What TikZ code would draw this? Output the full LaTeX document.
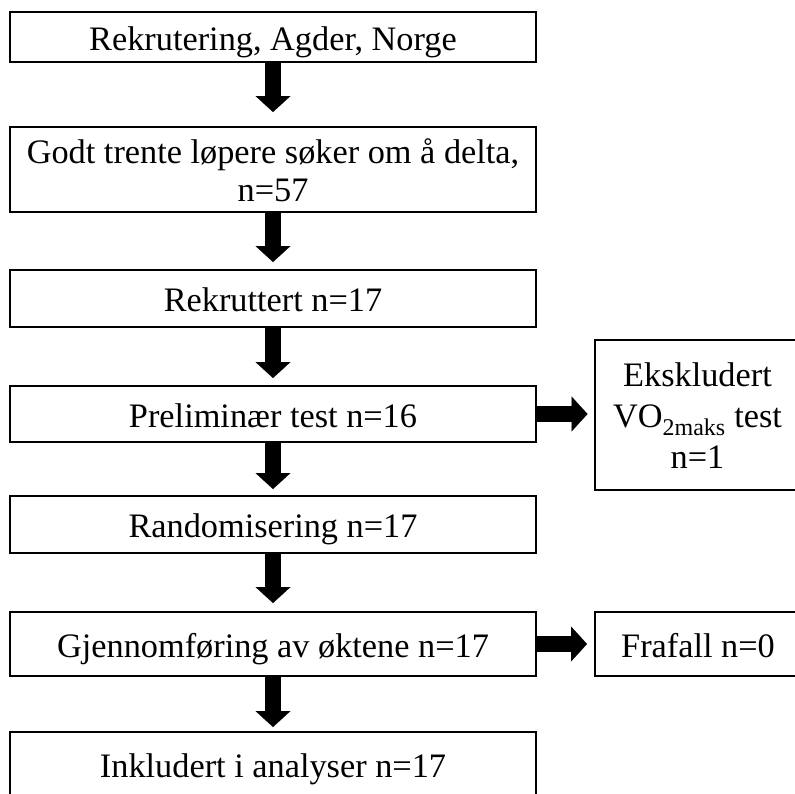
\documentclass[tikz,border=0pt]{standalone}
\usepackage{fontspec}
\setmainfont{Liberation Serif}
\usetikzlibrary{arrows.meta}
\tikzset{
  box/.style={draw=black, line width=2pt, fill=white, minimum width=526pt, inner sep=0pt},
  sidebox/.style={box, minimum width=206pt},
  lbl/.style={anchor=base, inner sep=0pt, font=\fontsize{34.3}{38}\selectfont},
  fat/.style={line width=16pt,
    -{Triangle[length=16pt,width=35pt,line width=0.1pt]}},
}
\begin{document}
\begin{tikzpicture}[x=1pt,y=-1pt]
\useasboundingbox (0,0) rectangle (795,793);
\clip (0,0) rectangle (795,793);
% main column boxes
\node[box, minimum height=49.5pt] (b1) at (273,36.75) {};
\node[box, minimum height=85pt]   (b2) at (273,169.5) {};
\node[box, minimum height=57pt]   (b3) at (273,298.5) {};
\node[box, minimum height=56pt]   (b4) at (273,414) {};
\node[box, minimum height=57pt]   (b6) at (273,524.5) {};
\node[box, minimum height=64pt]   (b7) at (273,644) {};
\node[box, minimum height=68pt]   (b9) at (273,766) {};
% side boxes
\node[sidebox, minimum height=150pt] (b5) at (697.5,415) {};
\node[sidebox, minimum height=64pt]  (b8) at (698,644) {};
% labels, placed on their baselines
\node[lbl] (t1)  at (273,50)    {Rekrutering, Agder, Norge};
\node[lbl] (t2a) at (273,163)   {Godt trente løpere søker om å delta,};
\node[lbl] (t2b) at (273,201)   {n=57};
\node[lbl] (t3)  at (273,311.5) {Rekruttert n=17};
\node[lbl] (t4)  at (273,427)   {Preliminær test n=16};
\node[lbl] (t6)  at (273,537)   {Randomisering n=17};
\node[lbl] (t7)  at (273,657)   {Gjennomføring av øktene n=17};
\node[lbl] (t9)  at (273,777)   {Inkludert i analyser n=17};
\node[lbl] (t5a) at (697.5,386) {Ekskludert};
\node[lbl] (t5b) at (697.5,427) {VO\textsubscript{2maks} test};
\node[lbl] (t5c) at (697.5,468) {n=1};
\node[lbl] (t8)  at (698,657)   {Frafall n=0};
% arrows
\draw[fat, shorten >=14pt] (b1) -- (b2);
\draw[fat, shorten >=7pt] (b2) -- (b3);
\draw[fat, shorten >=7pt] (b3) -- (b4);
\draw[fat, shorten >=6pt] (b4) -- (b6);
\draw[fat, shorten >=8pt] (b6) -- (b7);
\draw[fat, shorten >=4pt] (b7) -- (b9);
\draw[fat, shorten >=6pt] (b4.east) -- (b4.east -| b5.west);
\draw[fat, shorten >=7pt] (b7) -- (b8);
\end{tikzpicture}
\end{document}
